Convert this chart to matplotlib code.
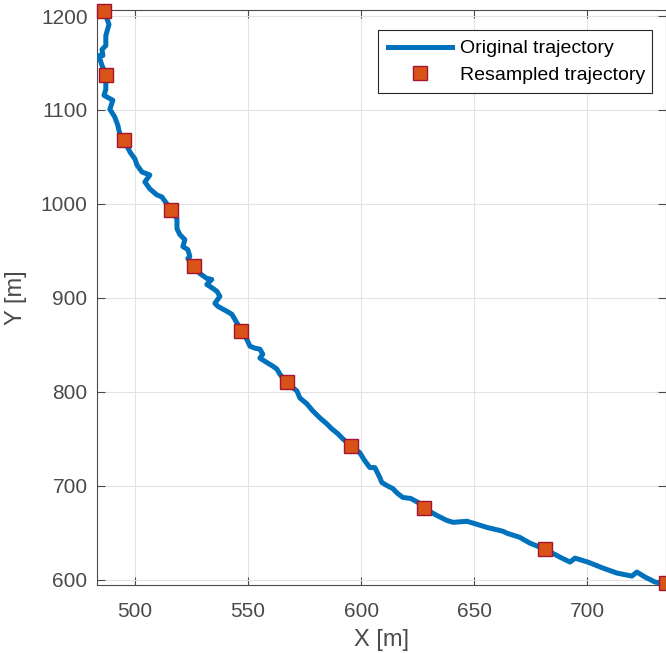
import matplotlib
matplotlib.use('Agg')
import matplotlib.pyplot as plt

# original trajectory
orig_x = [484.0, 486.3, 488.4, 487.0, 487.0, 485.3, 485.7, 483.9, 485.3, 486.6,
          487.0, 487.0, 486.2, 490.1, 488.8, 491.0, 492.3, 493.2, 495.0, 497.7,
          499.9, 500.8, 503.0, 506.5, 504.3, 506.5, 509.6, 511.8, 514.0, 515.8,
          518.5, 518.5, 519.8, 522.0, 521.1, 523.3, 524.2, 523.3, 526.0, 528.6,
          531.7, 533.9, 531.7, 534.4, 536.2, 537.5, 535.3, 536.6, 540.6, 542.8,
          544.1, 545.4, 546.8, 549.4, 550.8, 553.0, 555.2, 556.5, 555.2, 558.7,
          560.9, 562.7, 564.0, 567.1, 571.6, 572.9, 576.0, 578.6, 581.7, 584.8,
          587.0, 589.7, 591.9, 595.4, 599.4, 601.6, 603.9, 606.1, 608.3, 609.2,
          611.4, 614.0, 616.2, 618.5, 622.0, 625.2, 627.9, 633.5, 637.9, 640.7,
          646.9, 651.3, 655.6, 662.8, 664.6, 670.2, 674.8, 681.4, 688.1, 692.5,
          694.7, 700.4, 707.1, 713.3, 719.9, 722.1, 725.7, 730.1, 735.0]
orig_y = [1201.5, 1205.0, 1191.0, 1179.1, 1168.5, 1164.3, 1157.9, 1157.9, 1147.4, 1139.9,
          1136.8, 1121.9, 1115.6, 1110.3, 1100.7, 1092.3, 1083.8, 1074.3, 1067.9, 1055.2,
          1047.8, 1041.4, 1034.0, 1030.8, 1023.4, 1016.0, 1009.6, 1007.5, 1000.1, 993.8,
          984.2, 973.6, 967.3, 962.0, 954.6, 951.4, 944.0, 941.8, 934.4, 926.0,
          920.7, 919.6, 914.3, 910.1, 906.9, 901.6, 894.2, 891.0, 885.7, 882.5,
          877.2, 871.9, 865.6, 856.0, 848.6, 846.5, 845.4, 840.1, 835.9, 830.6,
          827.4, 824.3, 819.0, 809.4, 801.0, 793.5, 787.2, 779.8, 772.4, 766.0,
          760.7, 755.4, 750.1, 742.7, 735.3, 726.8, 719.4, 719.4, 708.8, 703.5,
          700.3, 697.1, 691.8, 687.6, 686.5, 682.3, 676.0, 668.5, 663.2, 661.1,
          662.2, 659.0, 655.8, 651.6, 649.5, 645.2, 638.9, 632.5, 624.0, 618.8,
          623.0, 618.8, 612.4, 607.1, 603.9, 608.2, 602.9, 597.6, 595.4]

# resampled trajectory
res_x = [486.3, 487.0, 495.0, 515.8, 526.0, 546.8, 567.1, 595.4, 628.0, 681.3, 734.8]
res_y = [1205.0, 1136.7, 1067.9, 993.8, 934.4, 864.5, 810.0, 742.7, 676.0, 632.5, 596.0]

xticks = [500, 550, 600, 650, 700]
yticks = [600, 700, 800, 900, 1000, 1100, 1200]

plt.rcParams['font.family'] = ['Liberation Sans', 'DejaVu Sans']

fig = plt.figure(figsize=(6.66, 6.53), dpi=100)
ax = fig.add_axes([0.146, 0.1037, 0.854, 0.881])

ax.plot(orig_x, orig_y, color='#0072BD', lw=3.6, label='Original trajectory', zorder=3)
ax.plot(res_x, res_y, 's', ms=10, mfc='#D95319', mec='#A2142F', mew=1.0,
        label='Resampled trajectory', clip_on=False, zorder=4)

ax.set_xlim(483.2, 735.0)
ax.set_ylim(594.1, 1206.4)
ax.set_xticks(xticks)
ax.set_yticks(yticks)
ax.grid(True, color='#e3e3e3', lw=0.8)
ax.set_axisbelow(True)

ax.tick_params(direction='in', length=6, width=0.8, colors='#4a4a4a',
               labelsize=15, top=True, right=True)
ax.tick_params(axis='x', pad=12)
ax.tick_params(axis='y', pad=7)
for s in ax.spines.values():
    s.set_color('#4a4a4a')
    s.set_linewidth(0.8)

ax.set_xlabel('X [m]', fontsize=17, color='#4a4a4a', labelpad=6)
ax.set_ylabel('Y [m]', fontsize=17, color='#4a4a4a', labelpad=10)

# legend box spans a fixed width, like the reference
leg = ax.legend(loc='upper right', bbox_to_anchor=(0.4936, 0.5, 0.4818, 0.4652),
                mode='expand', borderaxespad=0,
                fontsize=14, fancybox=False, framealpha=1, edgecolor='#262626',
                handlelength=3.3, handletextpad=0.4, labelspacing=0.45, borderpad=0.5)
leg.get_frame().set_linewidth(0.8)

fig.savefig('out.png', dpi=100)
